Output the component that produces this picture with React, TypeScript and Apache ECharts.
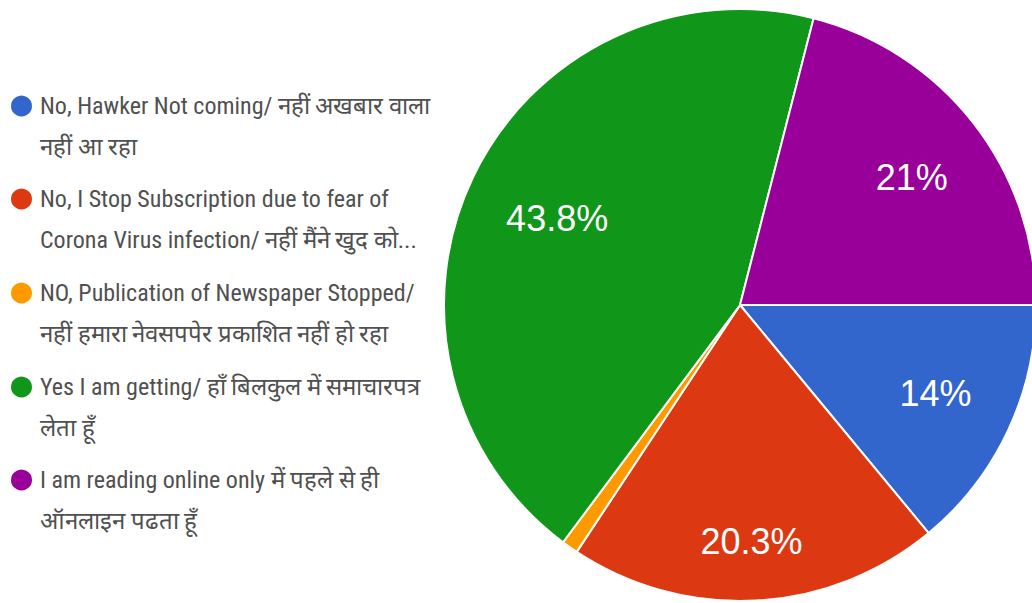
import React, { useEffect, useRef } from "react";
import * as echarts from "echarts";

const categories = [
  "No, Hawker Not coming/ नहीं अखबार वाला नहीं आ रहा",
  "No, I Stop Subscription due to fear of Corona Virus infection/ नहीं मैंने खुद को...",
  "NO, Publication of Newspaper Stopped/ नहीं हमारा नेवसपपेर प्रकाशित नहीं हो रहा",
  "Yes I am getting/ हाँ बिलकुल में समाचारपत्र लेता हूँ",
  "I am reading online only में पहले से ही ऑनलाइन पढता हूँ",
];
const legendLines = [
  ["No, Hawker Not coming/ नहीं अखबार वाला", "नहीं आ रहा"],
  ["No, I Stop Subscription due to fear of", "Corona Virus infection/ नहीं मैंने खुद को..."],
  ["NO, Publication of Newspaper Stopped/", "नहीं हमारा नेवसपपेर प्रकाशित नहीं हो रहा"],
  ["Yes I am getting/ हाँ बिलकुल में समाचारपत्र", "लेता हूँ"],
  ["I am reading online only में पहले से ही", "ऑनलाइन पढता हूँ"],
];
const values = [14, 20.3, 0.9, 43.8, 21];
const colors = ["#3366CC", "#DC3912", "#FF9900", "#109618", "#990099"];
const showLabel = [true, true, false, true, true];
// label nudges [dx, dy] in px
const labelNudge = [
  [0, -3],
  [0, 21],
  [0, 0],
  [12, 7],
  [1, 5],
];
const legendIconCenters = [106, 199, 293, 387, 480];

const LINE_H = 41;
const LEGEND_FONT = "'Liberation Sans Narrow', 'Arial Narrow', 'Roboto Condensed', 'Liberation Sans', sans-serif";

export default function App() {
  const ref = useRef<HTMLDivElement>(null);
  useEffect(() => {
    if (!ref.current) return;
    const chart = echarts.init(ref.current, undefined, { renderer: "svg" });
    const center = [740, 305];
    const R = 296;

    const legends = categories.map((name, i) => ({
      show: true,
      data: [name],
      left: 9,
      top: legendIconCenters[i] - (3 * LINE_H) / 2,
      padding: 0,
      icon: "circle",
      itemWidth: 27,
      itemHeight: 23,
      selectedMode: false,
      formatter: () => " \n" + legendLines[i].join("\n"),
      textStyle: {
        fontFamily: LEGEND_FONT,
        fontSize: 24,
        color: "#505050",
        lineHeight: LINE_H,
      },
    }));

    const pieData = categories.map((name, i) => ({
      name,
      value: values[i],
      itemStyle: { color: colors[i] },
    }));

    const labelData = categories.map((name, i) => {
      const [dx, dy] = labelNudge[i];
      const text = `${values[i]}%`;
      return {
        name,
        value: values[i],
        label: {
          show: showLabel[i],
          formatter: dy > 0 ? " \n" + text : dy < 0 ? text + "\n " : text,
          lineHeight: dy !== 0 ? 2 * Math.abs(dy) : 36,
          padding: [0, dx < 0 ? -2 * dx : 0, 0, dx > 0 ? 2 * dx : 0],
        },
      };
    });

    chart.setOption({
      animation: false,
      backgroundColor: "#ffffff",
      color: colors,
      legend: legends,
      series: [
        {
          type: "pie",
          center,
          radius: [0, R],
          startAngle: 0,
          clockwise: true,
          label: { show: false },
          labelLine: { show: false },
          silent: true,
          itemStyle: { borderColor: "#ffffff", borderWidth: 2 },
          data: pieData,
        },
        {
          type: "pie",
          center,
          radius: [130, R],
          startAngle: 0,
          clockwise: true,
          silent: true,
          legendHoverLink: false,
          itemStyle: { color: "rgba(0,0,0,0)", borderWidth: 0 },
          labelLine: { show: false },
          label: {
            show: true,
            position: "inside",
            color: "#ffffff",
            fontFamily: "'Liberation Sans', Arial, sans-serif",
            fontSize: 36,
          },
          emphasis: { disabled: true },
          data: labelData,
        },
      ],
    });
    return () => chart.dispose();
  }, []);
  return (
    <div
      ref={ref}
      style={{ position: "fixed", left: 0, top: 0, width: 1032, height: 603 }}
    />
  );
}
